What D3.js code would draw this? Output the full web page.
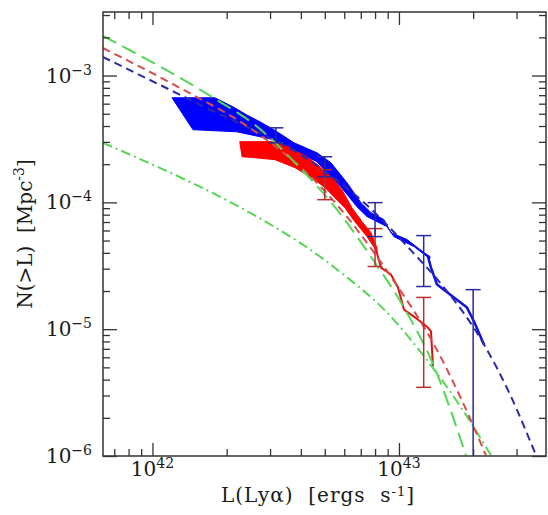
<!DOCTYPE html>
<html>
<head>
<meta charset="utf-8">
<script src="https://cdn.jsdelivr.net/npm/d3@7"></script>
<style>
  html, body { margin: 0; padding: 0; background: #fff; }
  svg text { font-family: "DejaVu Serif", "Liberation Serif", serif; fill: #1a1a1a; white-space: pre; }
</style>
</head>
<body>
<svg id="chart" width="548" height="515"></svg>
<script>
// ---- data: [L (erg/s), N(>L) (Mpc^-3)] ----
const blueModel = [[6.29e41,1.40e-3],[1.56e42,5.88e-4],[4.48e42,2.05e-4],[7.08e42,1.03e-4],[1.161e43,3.87e-5],[1.467e43,2.33e-5],[2.213e43,7.58e-6],[2.822e43,3.06e-6],[3.60e43,1.01e-6]];
const redModel = [[6.29e41,1.65e-3],[1.29e42,8.0e-4],[2.65e42,3.54e-4],[4.78e42,1.35e-4],[9.45e42,2.46e-5],[1.387e43,7.58e-6],[1.769e43,2.95e-6],[2.255e43,1.01e-6]];
const greenModel = [[6.29e41,2.05e-3],[1.82e42,6.44e-4],[2.60e42,4.09e-4],[3.96e42,1.88e-4],[5.40e42,9.59e-5],[7.84e42,3.54e-5],[1.048e43,1.48e-5],[1.387e43,5.09e-6],[1.871e43,1.01e-6]];
const greenDashDot = [[6.29e41,2.95e-4],[3.11e42,6.44e-5],[3.96e42,4.82e-5],[6.32e42,2.46e-5],[8.37e42,1.54e-5],[1.349e43,5.18e-6],[1.785e43,2.42e-6],[2.363e43,1.01e-6]];

const blueBandTop = [[1.20e42,6.68e-4],[1.79e42,6.68e-4],[2.12e42,5.67e-4],[2.41e42,4.90e-4],[2.73e42,4.32e-4],[3.11e42,3.74e-4],[3.75e42,2.95e-4],[4.65e42,2.46e-4],[5.30e42,2.05e-4],[6.15e42,1.43e-4],[7.01e42,9.95e-5],[7.70e42,8.30e-5],[8.69e42,7.31e-5],[9.28e42,5.77e-5],[1.078e43,5.09e-5],[1.263e43,4.02e-5],[1.336e43,3.74e-5]];
const blueBandBottom = [[1.46e42,3.74e-4],[2.20e42,3.60e-4],[2.99e42,3.17e-4],[3.75e42,2.55e-4],[4.65e42,2.09e-4],[5.81e42,1.33e-4],[6.75e42,9.25e-5],[7.42e42,7.72e-5],[8.94e42,6.44e-5],[9.54e42,5.37e-5],[1.151e43,4.48e-5],[1.299e43,3.74e-5],[1.336e43,3.60e-5]];
const blueTail = [[1.311e43,3.74e-5],[1.349e43,3.06e-5],[1.427e43,2.25e-5],[1.672e43,1.78e-5],[1.888e43,1.48e-5],[2.016e43,1.15e-5],[2.213e43,7.58e-6]];

const redBandTop = [[2.26e42,3.01e-4],[3.14e42,3.01e-4],[3.54e42,2.75e-4],[4.15e42,2.33e-4],[4.69e42,1.98e-4],[5.35e42,1.56e-4],[5.87e42,1.26e-4],[6.44e42,9.08e-5],[7.08e42,7.05e-5],[7.70e42,5.77e-5],[8.14e42,4.40e-5]];
const redBandBottom = [[2.31e42,2.29e-4],[2.60e42,2.25e-4],[3.14e42,2.17e-4],[3.78e42,1.88e-4],[4.44e42,1.56e-4],[5.01e42,1.31e-4],[5.49e42,1.09e-4],[6.03e42,9.08e-5],[6.62e42,7.05e-5],[7.42e42,5.37e-5],[8.14e42,4.09e-5]];
const redTail = [[8.07e42,4.24e-5],[8.45e42,3.06e-5],[9.28e42,2.70e-5],[9.91e42,2.13e-5],[1.048e43,1.43e-5],[1.161e43,1.24e-5],[1.311e43,1.03e-5],[1.349e43,9.59e-6],[1.374e43,5.09e-6]];

// error bars: [L, upper, lower]
const blueErrors = [[3.17e42,3.87e-4,2.95e-4],[5.0e42,2.29e-4,1.59e-4],[8.0e42,9.95e-5,5.37e-5],[1.26e43,5.47e-5,2.17e-5],[2.0e43,2.05e-5,5e-7]];
const redErrors = [[5.0e42,1.81e-4,1.05e-4],[8.0e42,6.21e-5,3.12e-5],[1.26e43,1.78e-5,3.48e-6]];

const xMajor = [1e42, 1e43];
const xMinor = [7e41,8e41,9e41,2e42,3e42,4e42,5e42,6e42,7e42,8e42,9e42,2e43,3e43];
const yMajor = [1e-6, 1e-5, 1e-4, 1e-3];
const yMinor = [2e-6,3e-6,4e-6,5e-6,6e-6,7e-6,8e-6,9e-6,2e-5,3e-5,4e-5,5e-5,6e-5,7e-5,8e-5,9e-5,
                2e-4,3e-4,4e-4,5e-4,6e-4,7e-4,8e-4,9e-4,2e-3,3e-3];
const xLabels = [[1e42, "42"], [1e43, "43"]];
const yLabels = [[1e-6, "\u22126"], [1e-5, "\u22125"], [1e-4, "\u22124"], [1e-3, "\u22123"]];

// ---- layout ----
const mLeft = 103, mRight = 546, mTop = 12, mBottom = 456;
const svg = d3.select("#chart");

const x = d3.scaleLog().domain([6.3e41, 3.95e43]).range([mLeft, mRight]);
const y = d3.scaleLog().domain([1e-6, 3.17e-3]).range([mBottom, mTop]);

svg.append("clipPath").attr("id", "plotclip")
  .append("rect").attr("x", mLeft).attr("y", mTop)
  .attr("width", mRight - mLeft).attr("height", mBottom - mTop);

const plot = svg.append("g").attr("clip-path", "url(#plotclip)");

const line = d3.line().x(d => x(d[0])).y(d => y(d[1]));
const smooth = d3.line().x(d => x(d[0])).y(d => y(d[1])).curve(d3.curveMonotoneX);
const band = d3.line().x(d => x(d[0])).y(d => y(d[1])).curve(d3.curveLinearClosed);

// observed bands
plot.append("path").attr("d", band(blueBandTop.concat(blueBandBottom.slice().reverse())))
  .attr("fill", "#0000ff").attr("stroke", "#0000ff").attr("stroke-width", 1);
plot.append("path").attr("d", band(redBandTop.concat(redBandBottom.slice().reverse())))
  .attr("fill", "#ff0000").attr("stroke", "#ff0000").attr("stroke-width", 1);

plot.append("path").attr("d", line(blueTail)).attr("fill", "none")
  .attr("stroke", "#1010e0").attr("stroke-width", 2.5).attr("stroke-linejoin", "round");
plot.append("path").attr("d", line(redTail)).attr("fill", "none")
  .attr("stroke", "#e01010").attr("stroke-width", 2).attr("stroke-linejoin", "round");

// model curves
plot.append("path").attr("d", smooth(greenDashDot)).attr("fill", "none")
  .attr("stroke", "#55d655").attr("stroke-width", 2).attr("stroke-dasharray", "10,4,2,4");
plot.append("path").attr("d", smooth(blueModel)).attr("fill", "none")
  .attr("stroke", "#2a2aa8").attr("stroke-width", 2).attr("stroke-dasharray", "8,5");
plot.append("path").attr("d", smooth(redModel)).attr("fill", "none")
  .attr("stroke", "#d84c4c").attr("stroke-width", 2).attr("stroke-dasharray", "8,5");
plot.append("path").attr("d", smooth(greenModel)).attr("fill", "none")
  .attr("stroke", "#55d655").attr("stroke-width", 2).attr("stroke-dasharray", "15,7");

// error bars
function errorBars(data, color) {
  const g = plot.append("g").attr("stroke", color).attr("stroke-width", 1.5).attr("fill", "none");
  data.forEach(d => {
    const cx = x(d[0]);
    g.append("line").attr("x1", cx).attr("x2", cx).attr("y1", y(d[1])).attr("y2", y(d[2]));
    g.append("line").attr("x1", cx - 7.5).attr("x2", cx + 7.5).attr("y1", y(d[1])).attr("y2", y(d[1]));
    g.append("line").attr("x1", cx - 7.5).attr("x2", cx + 7.5).attr("y1", y(d[2])).attr("y2", y(d[2]));
  });
}
errorBars(redErrors, "#b83030");
errorBars(blueErrors, "#2a2a9c");

// ---- axes (ticks inward on all four sides) ----
const axisColor = "#333";
function addAxis(axis, tx, ty) {
  const g = svg.append("g").attr("transform", `translate(${tx},${ty})`).call(axis);
  g.select(".domain").remove();
  g.selectAll(".tick line").attr("stroke", axisColor).attr("stroke-width", 1.3);
  g.selectAll(".tick text").remove();
}
[[xMajor, 13], [xMinor, 7]].forEach(([vals, len]) => {
  addAxis(d3.axisBottom(x).tickValues(vals).tickSize(-len).tickSizeOuter(0), 0, mBottom);
  addAxis(d3.axisTop(x).tickValues(vals).tickSize(-len).tickSizeOuter(0), 0, mTop);
});
[[yMajor, 14], [yMinor, 7]].forEach(([vals, len]) => {
  addAxis(d3.axisLeft(y).tickValues(vals).tickSize(-len).tickSizeOuter(0), mLeft, 0);
  addAxis(d3.axisRight(y).tickValues(vals).tickSize(-len).tickSizeOuter(0), mRight, 0);
});

svg.append("rect").attr("x", mLeft).attr("y", mTop)
  .attr("width", mRight - mLeft).attr("height", mBottom - mTop)
  .attr("fill", "none").attr("stroke", axisColor).attr("stroke-width", 1.5);

// tick labels
xLabels.forEach(([v, e]) => {
  const t = svg.append("text").attr("x", x(v)).attr("y", 476)
    .attr("text-anchor", "middle").attr("font-size", 20);
  t.append("tspan").text("10");
  t.append("tspan").attr("font-size", 14).attr("dy", -8).text(e);
});
yLabels.forEach(([v, e]) => {
  const t = svg.append("text").attr("x", 92).attr("y", y(v) + 7)
    .attr("text-anchor", "end").attr("font-size", 20);
  t.append("tspan").text("10");
  t.append("tspan").attr("font-size", 14).attr("dy", -8).text(e);
});

// axis titles
const xt = svg.append("text").attr("x", 318).attr("y", 502)
  .attr("text-anchor", "middle").attr("font-size", 20).attr("letter-spacing", 1);
xt.append("tspan").text("L(Ly\u03b1)  [ergs  s");
xt.append("tspan").attr("font-size", 13).attr("dy", -6).text("-1");
xt.append("tspan").attr("dy", 6).text("]");

const yt = svg.append("text").attr("transform", "translate(32,234) rotate(-90)")
  .attr("text-anchor", "middle").attr("font-size", 20);
yt.append("tspan").text("N(>L)  [Mpc");
yt.append("tspan").attr("font-size", 14).attr("dy", -8).text("-3");
yt.append("tspan").attr("dy", 8).text("]");
</script>
</body>
</html>
